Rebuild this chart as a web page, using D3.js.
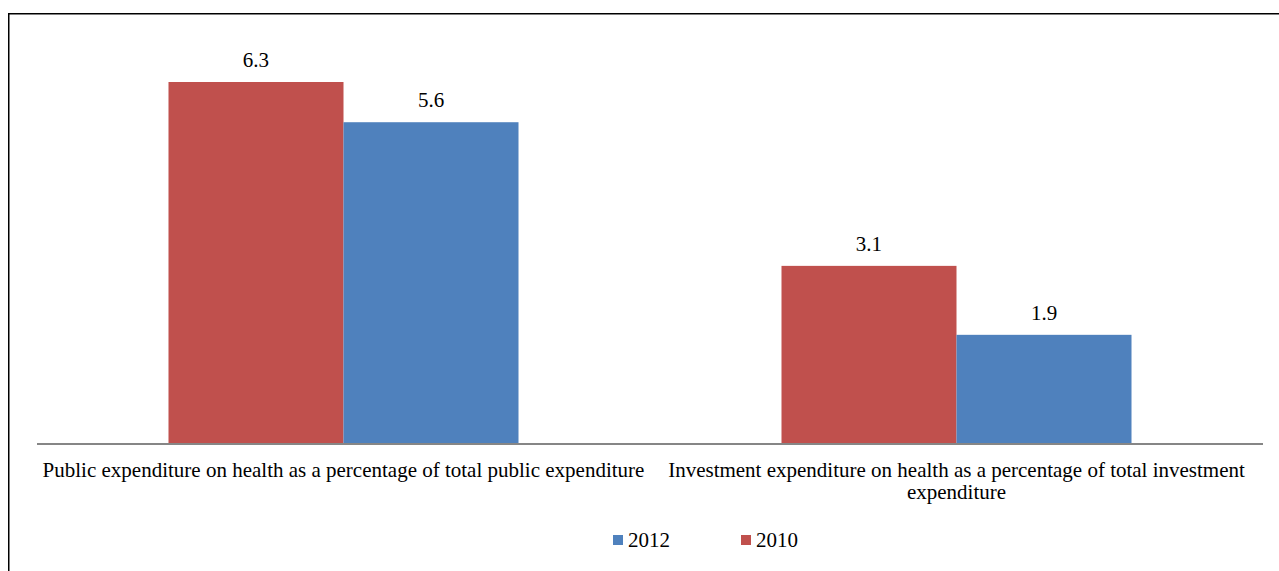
<!DOCTYPE html>
<html><head><meta charset="utf-8">
<script src="https://cdn.jsdelivr.net/npm/d3@7"></script>
<style>body{margin:0;background:#fff}svg{display:block}</style>
</head><body><svg id="c" width="1279" height="571"></svg>
<script>
const categories = [
  ["Public expenditure on health as a percentage of total public expenditure"],
  ["Investment expenditure on health as a percentage of total investment", "expenditure"]
];
const seriesNames = ["2010", "2012"];
const values2010 = [6.3, 3.1];
const values2012 = [5.6, 1.9];
const legendOrder = ["2012", "2010"];
const colors = {"2010": "#c0504d", "2012": "#4f81bd"};

// pick first installed serif face
const ctx = document.createElement("canvas").getContext("2d");
const probe = "Public expenditure on health 0123456789";
function w(f) { ctx.font = "40px " + f; return ctx.measureText(probe).width; }
const candidates = ["Liberation Serif", "Tinos", "Times New Roman", "Noto Serif", "DejaVu Serif", "FreeSerif"];
let FONT = "serif";
for (const c of candidates) {
  if (w("'" + c + "', monospace") !== w("monospace")) { FONT = "'" + c + "', serif"; break; }
}
// size label font so the first label spans ~613 px like the reference
ctx.font = "100px " + FONT;
const labelSize = Math.min(21, 100 * 613 / ctx.measureText(categories[0][0]).width);

const svg = d3.select("#c");
svg.append("rect").attr("x", 8.75).attr("y", 13.75).attr("width", 1400).attr("height", 700)
  .attr("fill", "none").attr("stroke", "#000").attr("stroke-width", 1.5);

const left = 37, right = 1263, baseY = 444, topY = 82;
const x0 = d3.scaleBand().domain(d3.range(categories.length)).range([left, right]).paddingInner(0).paddingOuter(0);
const x1 = d3.scaleBand().domain(seriesNames).range([0, x0.bandwidth()]).paddingInner(0).paddingOuter(0.7514);
const y = d3.scaleLinear().domain([0, 6.3]).range([baseY, topY]);

const series = {"2010": values2010, "2012": values2012};
const bars = [];
categories.forEach((c, i) => seriesNames.forEach(s => bars.push({i, s, v: series[s][i]})));

svg.selectAll("rect.bar").data(bars).enter().append("rect").attr("class", "bar")
  .attr("x", d => x0(d.i) + x1(d.s)).attr("width", x1.bandwidth())
  .attr("y", d => y(d.v)).attr("height", d => baseY - y(d.v))
  .attr("fill", d => colors[d.s]);

svg.selectAll("text.val").data(bars).enter().append("text").attr("class", "val")
  .attr("font-family", FONT).attr("fill", "#000")
  .attr("x", d => x0(d.i) + x1(d.s) + x1.bandwidth() / 2)
  .attr("y", d => y(d.v) - 15).attr("text-anchor", "middle").attr("font-size", labelSize)
  .text(d => d.v.toFixed(1));

svg.append("line").attr("x1", left).attr("x2", right).attr("y1", baseY).attr("y2", baseY)
  .attr("stroke", "#868686").attr("stroke-width", 2);

categories.forEach((lines, i) => {
  const cx = x0(i) + x0.bandwidth() / 2;
  const t = svg.append("text").attr("text-anchor", "middle").attr("font-size", labelSize)
    .attr("font-family", FONT).attr("fill", "#000").attr("x", cx).attr("y", 477);
  lines.forEach((l, k) => t.append("tspan").attr("x", cx).attr("dy", k ? 22 : 0).text(l));
});

const lx = [613, 741];
legendOrder.forEach((s, k) => {
  svg.append("rect").attr("x", lx[k]).attr("y", 535).attr("width", 10).attr("height", 10).attr("fill", colors[s]);
  svg.append("text").attr("x", lx[k] + 15).attr("y", 547).attr("font-size", labelSize)
    .attr("font-family", FONT).attr("fill", "#000").text(s);
});
</script></body></html>
